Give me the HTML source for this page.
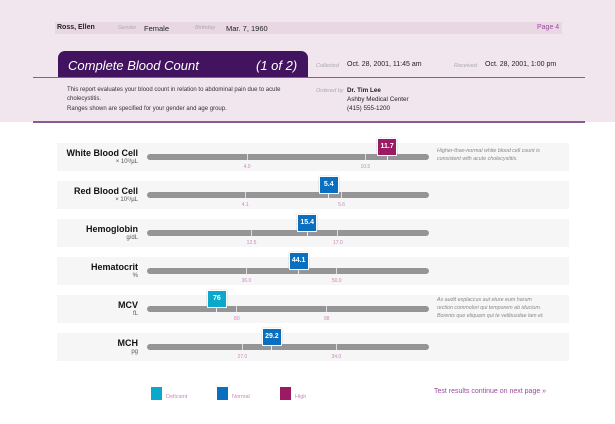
<!DOCTYPE html>
<html><head><meta charset="utf-8">
<style>
body{margin:0;width:615px;height:424px;overflow:hidden;background:#fff;font-family:"Liberation Sans",sans-serif;position:relative}
.a{position:absolute;white-space:nowrap}
.lbl{font-size:5.5px;color:#aaa;font-style:italic}
.val{font-size:7.5px;color:#222}
</style></head><body>
<div class="a" style="left:0;top:0;width:615px;height:122px;background:#f2e6ee"></div>
<div class="a" style="left:55px;top:22px;width:507px;height:12px;background:#e9d8e3"></div>
<div class="a" style="left:57px;top:24px;font-size:7px;font-weight:bold;color:#222">Ross, Ellen</div>
<div class="a lbl" style="left:118px;top:25px">Gender</div>
<div class="a val" style="left:144px;top:23.5px">Female</div>
<div class="a lbl" style="left:195px;top:25px">Birthday</div>
<div class="a val" style="left:226px;top:23.5px">Mar. 7, 1960</div>
<div class="a" style="left:537px;top:24px;font-size:7px;color:#9a4a9c">Page 4</div>
<div class="a" style="left:58px;top:51px;width:250px;height:26px;background:#42135e;border-radius:7px 7px 0 0"></div>
<div class="a" style="left:68px;top:58px;font-size:13px;font-style:italic;color:#fff">Complete Blood Count</div>
<div class="a" style="left:256px;top:58px;font-size:13px;font-style:italic;color:#fff">(1 of 2)</div>
<div class="a lbl" style="left:316px;top:63px">Collected</div>
<div class="a val" style="left:347px;top:61px;font-size:7px">Oct. 28, 2001, 11:45 am</div>
<div class="a lbl" style="left:454px;top:63px">Received</div>
<div class="a val" style="left:485px;top:61px;font-size:7px">Oct. 28, 2001, 1:00 pm</div>
<div class="a" style="left:33px;top:77px;width:552px;height:1px;background:#8a5a98"></div>
<div class="a" style="left:67px;top:86px;font-size:6px;color:#333;line-height:8.5px">This report evaluates your blood count in relation to abdominal pain due to acute<br>cholecystitis.<div style="height:2px"></div>Ranges shown are specified for your gender and age group.</div>
<div class="a lbl" style="left:316px;top:88px">Ordered by</div>
<div class="a" style="left:347px;top:86px;font-size:6.3px;color:#222;line-height:9px"><b>Dr. Tim Lee</b><br>Ashby Medical Center<br>(415) 555-1200</div>
<div class="a" style="left:33px;top:121px;width:552px;height:1.5px;background:#8a5a98"></div>
<div id="rows"></div>
<div class="a" style="left:151px;top:385px"><span style="display:inline-block;width:11px;height:13px;background:#0aa9cc;vertical-align:middle"></span><span style="font-size:5.5px;color:#c889b8;margin-left:4px">Deficient</span></div>
<div class="a" style="left:217px;top:385px"><span style="display:inline-block;width:11px;height:13px;background:#0a6fbf;vertical-align:middle"></span><span style="font-size:5.5px;color:#c889b8;margin-left:4px">Normal</span></div>
<div class="a" style="left:280px;top:385px"><span style="display:inline-block;width:11px;height:13px;background:#9c1a63;vertical-align:middle"></span><span style="font-size:5.5px;color:#c889b8;margin-left:4px">High</span></div>
<div class="a" style="left:434px;top:388px;font-size:7px;color:#9a4a9c">Test results continue on next page »</div>
<script>
const names=["White Blood Cell","Red Blood Cell","Hemoglobin","Hematocrit","MCV","MCH"];
const units=["× 10³/µL","× 10⁶/µL","g/dL","%","fL","pg"];
const values=[11.7,5.4,15.4,44.1,76,29.2];
const valueLabels=["11.7","5.4","15.4","44.1","76","29.2"];
const lowTicks=[4.0,4.1,12.5,36.0,80,27.0];
const highTicks=[10.5,5.6,17.0,50.0,98,34.0];
const lowLabels=["4.0","4.1","12.5","36.0","80","27.0"];
const highLabels=["10.5","5.6","17.0","50.0","98","34.0"];
const domMin=[-1.5,2.57,7.05,20.6,62,19.9];
const domMax=[14.0,6.96,21.75,64.3,118.5,40.9];
const notes=["Higher-than-normal white blood cell count is<br>consistent with acute cholecystitis.","","","","As audit explaccus aut eture eum harum<br>rection commolori qui temporem ab iducium.<br>Borenis que eliquam qui te velibusdae lam et.",""];
const X0=147,X1=429;
const host=document.getElementById('rows');
function sx(i,v){return X0+(v-domMin[i])/(domMax[i]-domMin[i])*(X1-X0);}
function mk(style,html){const d=document.createElement('div');d.className='a';d.setAttribute('style',style);if(html)d.innerHTML=html;host.appendChild(d);return d;}
names.forEach((n,i)=>{
 const top=143+i*38;
 let e=mk(`left:57px;top:${top}px;width:512px;height:28px;background:#f6f6f6`);
 
 
 e=mk(`left:40px;top:${top+5}px;width:98px;text-align:right;font-size:9px;font-weight:bold;color:#111`,n);
 
 
 e=mk(`left:40px;top:${top+16}px;width:98px;text-align:right;font-size:6px;color:#555`,units[i]);
 
 
 e=mk(`left:${X0}px;top:${top+11}px;width:${X1-X0}px;height:6px;border-radius:3px;background:#959598`);
 
 
 [[lowTicks[i],lowLabels[i]],[highTicks[i],highLabels[i]]].forEach(t=>{
  const x=sx(i,t[0]);
  let k=mk(`left:${x-0.5}px;top:${top+11}px;width:1px;height:6px;background:#ddd`);
  
  
  k=mk(`left:${x-15}px;top:${top+21}px;width:30px;text-align:center;font-size:5px;color:#c889b8`,t[1]);
  
  
 });
 const v=values[i];
 const col=v>highTicks[i]?'#9c1a63':(v<lowTicks[i]?'#0aa9cc':'#0a6fbf');
 const x=sx(i,v);
 e=mk(`left:${x-0.5}px;top:${top+11}px;width:1px;height:6px;background:#eee`);
 
 
 e=mk(`left:${x-10}px;top:${top-5}px;width:18px;height:16px;border:1px solid #fff;border-radius:1px;background:${col};color:#fff;font-size:7px;font-weight:bold;text-align:center;line-height:16px;box-shadow:0 0 1px #999`,valueLabels[i]);
 
 
 if(notes[i]){
  e=mk(`left:437px;top:${top+(i==4?1:4)}px;font-size:5.3px;font-style:italic;color:#888;line-height:8px`,notes[i]);
  
  
 }
});
</script>
</body></html>
